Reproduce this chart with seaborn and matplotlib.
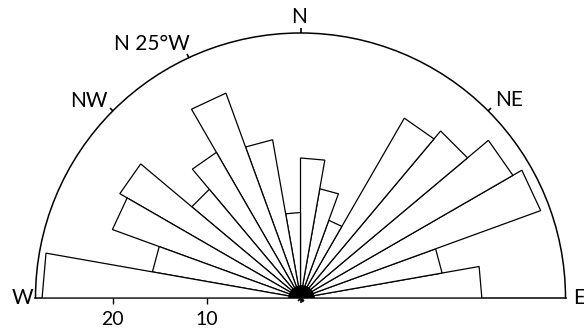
import numpy as np
import matplotlib
matplotlib.use("Agg")
import matplotlib.pyplot as plt
import seaborn as sns

# sector start angles (deg, counter-clockwise from E) and petal lengths
sector_start = [0, 10, 20, 30, 40, 50, 60, 70, 80, 90, 100, 110, 120, 130, 140, 150, 160, 170]
petal_len = [19.3, 15.3, 27.2, 26.1, 23.2, 22.1, 8.8, 11.8, 14.9, 9.1,
             17.1, 23.2, 17.9, 15.1, 22.2, 21.3, 16.0, 27.5]
sector_width = 10
r_max = 28.2

# compass labels on the arc: angle (deg), label
compass_deg = [90, 45, 135, 115]
compass_lbl = ["N", "NE", "NW", "N 25°W"]
scale_ticks = [20, 10]

sns.set_theme(style="white")
plt.rcParams["font.family"] = ["Lato", "DejaVu Sans"]

fig = plt.figure(figsize=(5.84, 3.32), dpi=100)
ax = fig.add_axes([35.5 / 584, -98.5 / 332, 530 / 584, 530 / 332], projection="polar")
ax.set_thetamin(0)
ax.set_thetamax(180)
ax.set_rlim(0, r_max)
ax.grid(False)
ax.set_yticks([])

# petals: triangles with a straight end, as in the hand-drawn rose
for a0, length in zip(sector_start, petal_len):
    t = np.deg2rad([0, a0, a0 + sector_width])
    ax.fill(t, [0, length, length], facecolor="white", edgecolor="black",
            linewidth=0.9, zorder=3)

# black blob where the petals meet
ax.scatter([0], [0], s=330, color="black", zorder=4)

for sp in ax.spines.values():
    sp.set_color("black")
    sp.set_linewidth(1.1)

# small ticks on the arc
ax.set_xticks(np.deg2rad(compass_deg))
ax.set_xticklabels([])
ax.tick_params(axis="x", bottom=True, top=True, length=3.5, width=1.2, color="black", direction="out")

label_pos = {"N": (90.2, 29.9), "NE": (43.4, 30.6), "NW": (137, 30.8), "N 25°W": (120.4, 31.3)}
for lbl in compass_lbl:
    a, r = label_pos[lbl]
    ax.text(np.deg2rad(a), r, lbl, ha="center", va="center", fontsize=15,
            color="black", clip_on=False)

ax.text(np.pi, 28.4, "W", ha="right", va="center", fontsize=15, color="black", clip_on=False)
ax.text(0, 29.0, "E", ha="left", va="center", fontsize=15, color="black", clip_on=False)

# radial scale along the W side of the baseline
ax.plot([np.pi] * len(scale_ticks), scale_ticks, linestyle="none", marker=3,
        markersize=4, markeredgewidth=1, color="black", clip_on=False)
for v in scale_ticks:
    ax.annotate(str(v), xy=(np.pi, v), xytext=(0, -9.5), textcoords="offset points",
                ha="center", va="top", fontsize=14, color="black")

fig.savefig("out.png", dpi=100, facecolor="white")
